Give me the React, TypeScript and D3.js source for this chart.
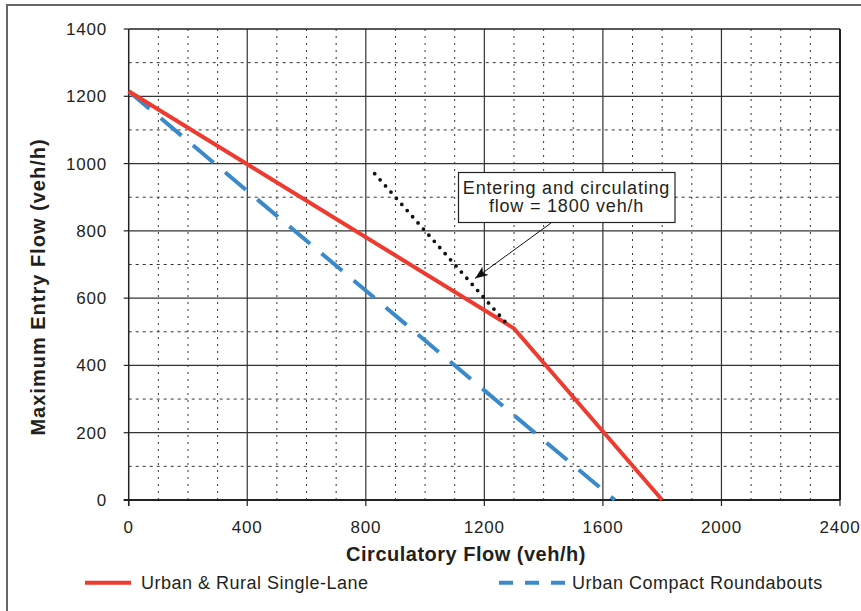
import React from "react";
import * as d3 from "d3";

const xTicks = [0, 400, 800, 1200, 1600, 2000, 2400];
const yTicks = [0, 200, 400, 600, 800, 1000, 1200, 1400];
const xMinor = [100, 200, 300, 500, 600, 700, 900, 1000, 1100, 1300, 1400, 1500, 1700, 1800, 1900, 2100, 2200, 2300];
const yMinor = [100, 300, 500, 700, 900, 1100, 1300];

const singleLaneX = [0, 1300, 1800];
const singleLaneY = [1215, 510, 0];
const compactX = [0, 1640];
const compactY = [1215, 0];
const totalFlowX = [830, 1285];
const totalFlowY = [970, 515];

const annotationLines = ["Entering and circulating", "flow = 1800 veh/h"];
const legendLabels = ["Urban & Rural Single-Lane", "Urban Compact Roundabouts"];

const W = 861;
const H = 611;
const M = { left: 128.7, right: 840, top: 29, bottom: 500 };
const FONT = "'Liberation Sans', Arial, Helvetica, sans-serif";
const TXT = "#231f20";

export default function App() {
  const x = d3.scaleLinear().domain([0, 2400]).range([M.left, M.right]);
  const y = d3.scaleLinear().domain([0, 1400]).range([M.bottom, M.top]);
  const line = d3
    .line<[number, number]>()
    .x((d) => x(d[0]))
    .y((d) => y(d[1]));
  const pts = (xs: number[], ys: number[]) => xs.map((v, i) => [v, ys[i]] as [number, number]);

  return (
    <div style={{ position: "absolute", left: 0, top: 0 }}>
      <svg width={W} height={H} style={{ display: "block", background: "#fff" }}>
        <defs>
          <marker id="arr" viewBox="0 0 10 10" refX="10" refY="5" markerWidth="13" markerHeight="13" markerUnits="userSpaceOnUse" orient="auto">
            <path d="M0,1 L10,5 L0,9 L2.5,5 Z" fill="#111" />
          </marker>
        </defs>
        {/* outer frame */}
        <line x1={7} y1={4} x2={7} y2={H} stroke="#666" strokeWidth={2} />
        <line x1={6} y1={5} x2={W} y2={5} stroke="#666" strokeWidth={2} />

        {/* minor grid */}
        {xMinor.map((v) => (
          <line key={"xm" + v} x1={x(v)} x2={x(v)} y1={M.top} y2={M.bottom} stroke="#333" strokeWidth={1} strokeDasharray="2 5" />
        ))}
        {yMinor.map((v) => (
          <line key={"ym" + v} x1={M.left} x2={M.right} y1={y(v)} y2={y(v)} stroke="#333" strokeWidth={1} strokeDasharray="3 4" />
        ))}
        {/* major grid */}
        {xTicks.slice(1, -1).map((v) => (
          <line key={"xg" + v} x1={x(v)} x2={x(v)} y1={M.top} y2={M.bottom} stroke="#333" strokeWidth={1.2} />
        ))}
        {yTicks.slice(1, -1).map((v) => (
          <line key={"yg" + v} x1={M.left} x2={M.right} y1={y(v)} y2={y(v)} stroke="#333" strokeWidth={1.2} />
        ))}
        {/* frame */}
        <line x1={M.left} x2={M.right} y1={M.top} y2={M.top} stroke="#222" strokeWidth={1.5} />
        <line x1={M.right} x2={M.right} y1={M.top} y2={M.bottom} stroke="#222" strokeWidth={2} />
        <line x1={M.left} x2={M.left} y1={M.top} y2={M.bottom + 6} stroke="#222" strokeWidth={1.5} />
        <line x1={M.left - 5} x2={M.right} y1={M.bottom} y2={M.bottom} stroke="#222" strokeWidth={2} />

        {/* ticks & labels */}
        {yTicks.map((v) => (
          <g key={"yt" + v}>
            <line x1={M.left - 5} x2={M.left} y1={y(v)} y2={y(v)} stroke="#222" strokeWidth={1.2} />
            <text x={107} y={y(v) + 6} textAnchor="end" fontFamily={FONT} fontSize={17} letterSpacing={0.8} fill={TXT}>
              {v}
            </text>
          </g>
        ))}
        {xTicks.map((v) => (
          <g key={"xt" + v}>
            <line x1={x(v)} x2={x(v)} y1={M.bottom} y2={M.bottom + 6} stroke="#222" strokeWidth={1.2} />
            <text x={x(v)} y={532.5} textAnchor="middle" fontFamily={FONT} fontSize={17} letterSpacing={0.8} fill={TXT}>
              {v}
            </text>
          </g>
        ))}

        {/* axis titles */}
        <text x={466} y={561} textAnchor="middle" fontFamily={FONT} fontSize={20} letterSpacing={0.5} fontWeight="bold" fill={TXT}>
          Circulatory Flow (veh/h)
        </text>
        <text
          transform={`translate(45,287) rotate(-90)`}
          textAnchor="middle"
          fontFamily={FONT}
          fontSize={20}
          letterSpacing={1}
          fontWeight="bold"
          fill={TXT}
        >
          Maximum Entry Flow (veh/h)
        </text>

        {/* data lines */}
        <path d={line(pts(compactX, compactY)) || ""} fill="none" stroke="#3a8acb" strokeWidth={4} strokeDasharray="27 15" />
        <path d={line(pts(singleLaneX, singleLaneY)) || ""} fill="none" stroke="#ee3a2f" strokeWidth={4} strokeLinejoin="miter" />
        <path d={line(pts(totalFlowX, totalFlowY)) || ""} fill="none" stroke="#111" strokeWidth={3.8} strokeLinecap="round" strokeDasharray="0 8.2" />

        {/* annotation */}
        <rect x={458.5} y={172.5} width={216.5} height={50} fill="#fff" stroke="#222" strokeWidth={1.2} />
        {annotationLines.map((t, i) => (
          <text key={t} x={566.5} y={193.5 + i * 18.5} textAnchor="middle" fontFamily={FONT} fontSize={18} letterSpacing={0.8} fill={TXT}>
            {t}
          </text>
        ))}
        <line x1={551} y1={223} x2={475} y2={278.5} stroke="#111" strokeWidth={1} markerEnd="url(#arr)" />

        {/* legend */}
        <line x1={85} x2={131} y1={582.7} y2={582.7} stroke="#ee3a2f" strokeWidth={4} />
        <text x={141} y={589} fontFamily={FONT} fontSize={18} letterSpacing={0.5} fill={TXT}>
          {legendLabels[0]}
        </text>
        <line x1={499} x2={565} y1={582.7} y2={582.7} stroke="#3a8acb" strokeWidth={4} strokeDasharray="14 12" />
        <text x={572} y={589} fontFamily={FONT} fontSize={18} letterSpacing={0.5} fill={TXT}>
          {legendLabels[1]}
        </text>
      </svg>
    </div>
  );
}
